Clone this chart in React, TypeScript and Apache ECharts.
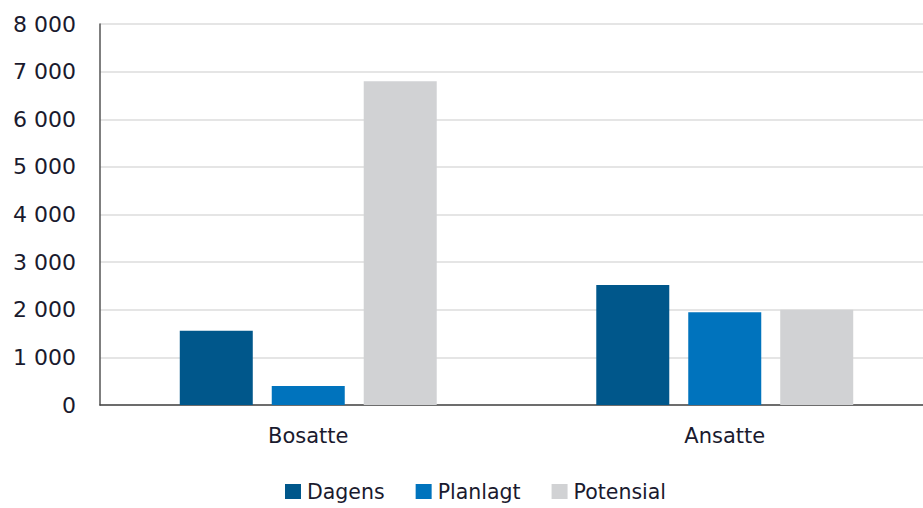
import React, { useEffect, useRef } from "react";
import * as echarts from "echarts";

const categories = ["Bosatte", "Ansatte"];
const dagens = [1560, 2520];
const planlagt = [400, 1950];
const potensial = [6800, 2000];
const seriesNames = ["Dagens", "Planlagt", "Potensial"];

const FONT = "'DejaVu Sans', sans-serif";

export default function App() {
  const ref = useRef<HTMLDivElement>(null);
  useEffect(() => {
    if (!ref.current) return;
    const chart = echarts.init(ref.current, undefined, { renderer: "svg" });
    chart.setOption({
      animation: false,
      grid: { left: 100, width: 833, top: 24, bottom: 103, containLabel: false, outerBoundsMode: "none" },
      legend: {
        data: seriesNames,
        left: 280,
        bottom: 1,
        itemWidth: 16,
        itemHeight: 15,
        itemGap: 31,
        icon: "rect",
        textStyle: { fontFamily: FONT, fontSize: 20.5, color: "#1a1a2e", padding: [0, 0, 0, 1] },
      },
      xAxis: {
        type: "category",
        data: categories,
        axisLine: { lineStyle: { color: "#444", width: 1.5 } },
        axisTick: { show: false },
        axisLabel: { fontFamily: FONT, fontSize: 21, color: "#1a1a2e", margin: 20 },
      },
      yAxis: {
        type: "value",
        min: 0,
        max: 8000,
        interval: 1000,
        axisLine: { show: true, lineStyle: { color: "#555", width: 1.5 } },
        axisTick: { show: false },
        splitLine: { lineStyle: { color: "#dcdcdc", width: 1.5 } },
        axisLabel: {
          fontFamily: FONT,
          fontSize: 22,
          color: "#1a1a2e",
          margin: 24,
          formatter: (v: number) => (v >= 1000 ? `${Math.floor(v / 1000)} ${String(v % 1000).padStart(3, "0")}` : String(v)),
        },
      },
      series: [
        { name: "Dagens", type: "bar", data: dagens, barWidth: 73, barGap: "26%", itemStyle: { color: "#00578B" } },
        { name: "Planlagt", type: "bar", data: planlagt, barWidth: 73, barGap: "26%", itemStyle: { color: "#0073BD" } },
        { name: "Potensial", type: "bar", data: potensial, barWidth: 73, barGap: "26%", itemStyle: { color: "#D1D2D4" } },
      ],
    });
    return () => chart.dispose();
  }, []);
  return (
    <div
      ref={ref}
      style={{ position: "fixed", left: 0, top: 0, width: 923, height: 508, background: "#fff" }}
    />
  );
}
